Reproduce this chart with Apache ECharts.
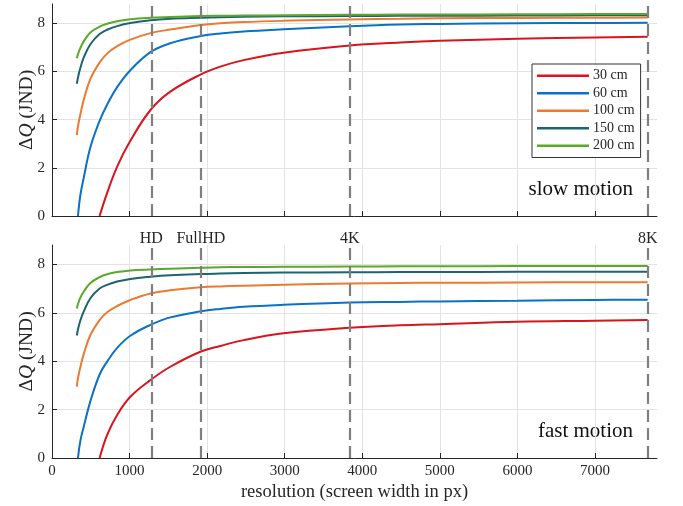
<!DOCTYPE html>
<html>
<head>
<meta charset="utf-8">
<script src="https://cdn.jsdelivr.net/npm/echarts@6/dist/echarts.min.js"></script>
<style>html,body{margin:0;padding:0;background:#fff}#c{width:683px;height:506px}</style>
</head>
<body>
<div id="c"></div>
<script>
const resolution = [320, 335, 365, 410, 495, 614, 710, 840, 1010, 1270, 1525, 1920, 2170, 2470, 2985, 3840, 4490, 5000, 6000, 7000, 7680];
const distances = ['30 cm', '60 cm', '100 cm', '150 cm', '200 cm'];
const colors = ['#d9141c', '#0a72c4', '#ec7a30', '#1c6470', '#5ca82a'];

const slow30  = [null, null, null, null, null, 0, 0.95, 2.05, 3.12, 4.40, 5.16, 5.88, 6.20, 6.47, 6.78, 7.08, 7.20, 7.27, 7.36, 7.41, 7.44];
const slow60  = [null, 0, 0.85, 1.60, 2.85, 3.95, 4.62, 5.35, 6.05, 6.80, 7.17, 7.47, 7.58, 7.66, 7.75, 7.88, 7.95, 7.97, 8.00, 8.01, 8.02];
const slow100 = [3.36, 3.72, 4.21, 4.83, 5.69, 6.37, 6.74, 7.05, 7.32, 7.59, 7.74, 7.93, 8.00, 8.05, 8.10, 8.16, 8.19, 8.21, 8.22, 8.23, 8.24];
const slow150 = [5.49, 5.75, 6.14, 6.58, 7.13, 7.55, 7.73, 7.88, 8.01, 8.13, 8.19, 8.23, 8.25, 8.27, 8.29, 8.30, 8.31, 8.31, 8.32, 8.33, 8.33];
const slow200 = [6.55, 6.72, 6.97, 7.25, 7.62, 7.86, 7.98, 8.08, 8.17, 8.23, 8.26, 8.30, 8.31, 8.32, 8.33, 8.35, 8.36, 8.36, 8.37, 8.38, 8.38];

const fast30  = [null, null, null, null, null, 0, 0.95, 1.78, 2.53, 3.22, 3.77, 4.40, 4.63, 4.87, 5.15, 5.38, 5.48, 5.53, 5.63, 5.67, 5.70];
const fast60  = [null, 0, 0.70, 1.30, 2.35, 3.45, 3.98, 4.55, 5.05, 5.50, 5.81, 6.06, 6.16, 6.25, 6.33, 6.42, 6.45, 6.47, 6.50, 6.53, 6.54];
const fast100 = [2.95, 3.30, 3.75, 4.30, 5.08, 5.70, 6.02, 6.28, 6.53, 6.80, 6.93, 7.05, 7.09, 7.12, 7.16, 7.21, 7.23, 7.24, 7.25, 7.26, 7.26];
const fast150 = [5.06, 5.32, 5.68, 6.06, 6.60, 7.00, 7.15, 7.29, 7.40, 7.49, 7.55, 7.60, 7.62, 7.64, 7.66, 7.67, 7.68, 7.68, 7.69, 7.69, 7.69];
const fast200 = [6.18, 6.36, 6.62, 6.88, 7.23, 7.47, 7.59, 7.68, 7.75, 7.79, 7.82, 7.86, 7.88, 7.89, 7.90, 7.91, 7.92, 7.92, 7.93, 7.93, 7.93];

const markerRes = [1280, 1920, 3840, 7680];
const markerNames = ['HD', 'FullHD', '4K', '8K'];
const xTicks = [0, 1000, 2000, 3000, 4000, 5000, 6000, 7000];
const yTicks = [0, 2, 4, 6, 8];

const FONT = 'Liberation Serif';
const AX = '#262626';

function pairs(vals) {
  const out = [];
  for (let i = 0; i < resolution.length; i++) if (vals[i] !== null) out.push([resolution[i], vals[i]]);
  return out;
}

function xAxis(idx, showLabels) {
  return {
    type: 'value', gridIndex: idx, min: 0, max: 7800,
    axisLine: { show: true, lineStyle: { color: AX, width: 1 } },
    axisTick: { show: true, inside: true, length: 5, customValues: xTicks, lineStyle: { color: AX } },
    axisLabel: { show: showLabels, customValues: xTicks, formatter: v => String(v), fontFamily: FONT, fontSize: 15, color: AX, margin: 6 },
    splitLine: { show: true, lineStyle: { color: '#e3e3e3', width: 1 } },
    name: showLabels ? 'resolution (screen width in px)' : '',
    nameLocation: 'middle', nameGap: 25, nameMoveOverlap: false,
    nameTextStyle: { fontFamily: FONT, fontSize: 18.5, color: AX }
  };
}
function yAxis(idx) {
  return {
    type: 'value', gridIndex: idx, min: 0, max: 8.8,
    axisLine: { show: true, lineStyle: { color: AX, width: 1 } },
    axisTick: { show: true, inside: true, length: 5, customValues: yTicks, lineStyle: { color: AX } },
    axisLabel: { customValues: yTicks, formatter: v => String(v), fontFamily: FONT, fontSize: 15, color: AX, margin: 7 },
    splitLine: { show: true, lineStyle: { color: '#e3e3e3', width: 1 } },
    name: '{n|Δ}{i|Q}{n| (JND)}',
    nameLocation: 'middle', nameGap: 15, nameRotate: 90, nameMoveOverlap: false,
    nameTextStyle: {
      rich: {
        n: { fontFamily: FONT, fontSize: 19.5, color: AX },
        i: { fontFamily: FONT, fontSize: 19.5, color: AX, fontStyle: 'italic' }
      }
    }
  };
}

function markLine(showLabel) {
  return {
    silent: true, symbol: 'none', z: 10,
    lineStyle: { color: '#7f7f7f', type: [12, 6], width: 2.2 },
    label: {
      show: showLabel, position: 'end', distance: -2,
      fontFamily: FONT, fontSize: 16, color: AX,
      formatter: p => markerNames[markerRes.indexOf(p.value)]
    },
    data: markerRes.map(v => ({ xAxis: v }))
  };
}

const series = [];
const slow = [slow30, slow60, slow100, slow150, slow200];
const fast = [fast30, fast60, fast100, fast150, fast200];
[slow, fast].forEach((set, g) => {
  set.forEach((vals, i) => {
    const s = {
      type: 'line', name: distances[i], xAxisIndex: g, yAxisIndex: g,
      data: pairs(vals), showSymbol: false, symbol: 'none',
      smooth: 0.4,
      lineStyle: { color: colors[i], width: 2 }, itemStyle: { color: colors[i] },
      clip: true
    };
    if (i === 0) s.markLine = markLine(g === 1);
    series.push(s);
  });
});

const chart = echarts.init(document.getElementById('c'), null, { renderer: 'canvas' });
chart.setOption({
  animation: false,
  backgroundColor: '#fff',
  grid: [
    { left: 52, right: 26, top: 4, bottom: 290, containLabel: false },
    { left: 52, right: 26, top: 245, bottom: 48, containLabel: false }
  ],
  xAxis: [xAxis(0, false), xAxis(1, true)],
  yAxis: [yAxis(0), yAxis(1)],
  legend: {
    data: distances, orient: 'vertical', left: 532, top: 64,
    icon: 'rect',
    backgroundColor: '#fff', borderColor: '#333', borderWidth: 1, borderRadius: 0,
    padding: [4, 6, 4, 5], itemGap: 2, itemWidth: 52, itemHeight: 2.5,
    textStyle: { fontFamily: FONT, fontSize: 14, color: AX, padding: [0, 0, 0, -1], lineHeight: 15.5 }
  },
  graphic: [
    { type: 'text', right: 50, top: 179, style: { text: 'slow motion', font: '21px "Liberation Serif"', fill: '#111' } },
    { type: 'text', right: 50, top: 421, style: { text: 'fast motion', font: '21px "Liberation Serif"', fill: '#111' } }
  ],
  series
});
</script>
</body>
</html>
